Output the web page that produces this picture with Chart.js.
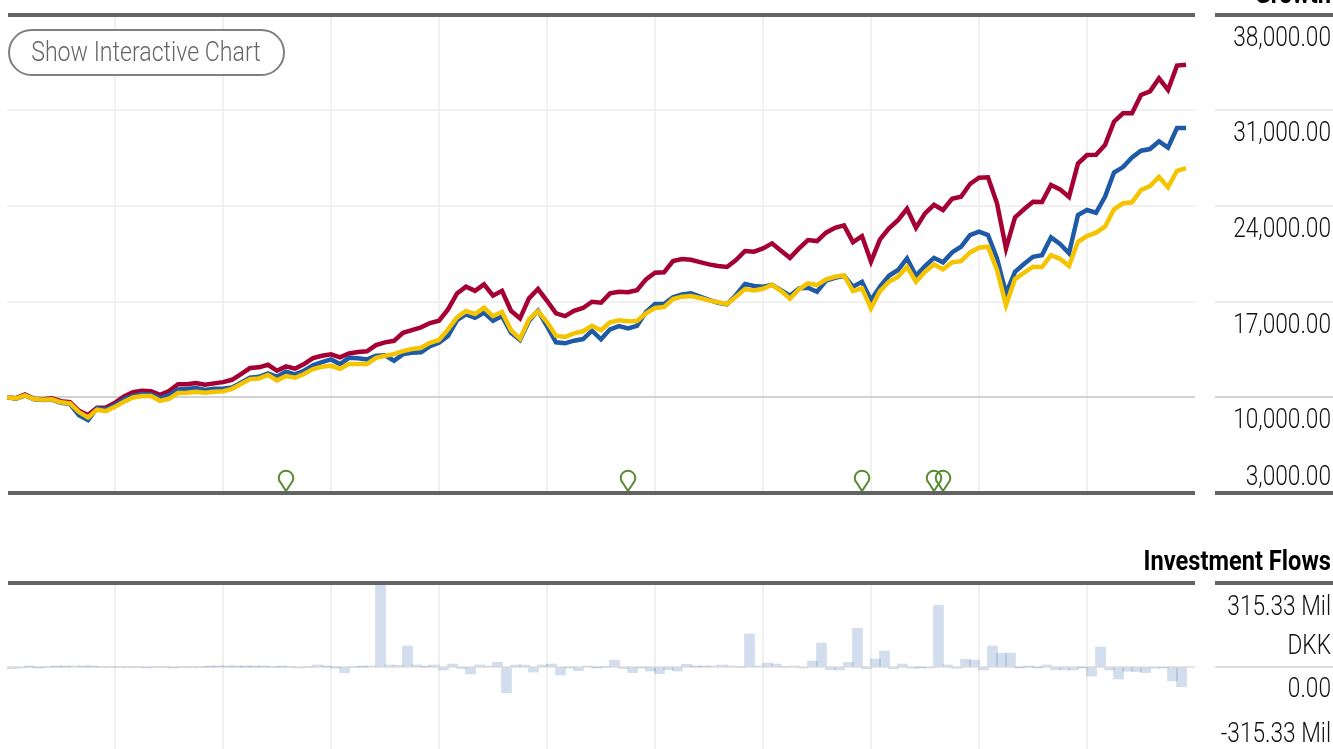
<!DOCTYPE html>
<html>
<head>
<meta charset="utf-8">
<title>Growth and Investment Flows</title>
<script src="https://cdn.jsdelivr.net/npm/chart.js@4"></script>
<style>
  html, body { margin: 0; padding: 0; width: 1333px; height: 749px; overflow: hidden; background: #fff; }
  canvas { position: absolute; left: 0; }
  #growth { top: 0; }
  #flows { top: 540px; }
  #show {
    position: absolute; left: 8px; top: 29px; width: 277px; height: 47px; padding: 0 0 2px;
    background: #fff; border: 2px solid #808080; border-radius: 24px; color: #666;
    font: 300 28px Roboto, sans-serif; white-space: nowrap; overflow: hidden;
  }
  #show span { display: inline-block; transform: translateX(-3px) scaleX(0.826); }
</style>
</head>
<body>
<canvas id="growth" width="1333" height="500"></canvas>
<canvas id="flows" width="1333" height="220"></canvas>
<button id="show"><span>Show Interactive Chart</span></button>
<script>
const fundValues = [
  10000, 9940, 10210, 9890, 9850, 9920, 9720, 9650, 9010, 8700,
  9230, 9260, 9600, 10070, 10380, 10480, 10450, 10180, 10450, 10950,
  10950, 11040, 10920, 11020, 11110, 11280, 11700, 12140, 12190, 12380,
  11940, 12260, 12090, 12430, 12870, 13040, 13140, 12920, 13210, 13310,
  13360, 13820, 14020, 14130, 14720, 14920, 15120, 15430, 15600, 16430,
  17600, 18090, 17790, 18260, 17430, 17790, 16330, 15770, 17240, 17920,
  17060, 16140, 15940, 16330, 16530, 16990, 16920, 17600, 17720, 17680,
  17840, 18630, 19110, 19140, 19970, 20110, 20060, 19890, 19720, 19600,
  19530, 20040, 20700, 20650, 20890, 21260, 20720, 20200, 20890, 21500,
  21430, 22040, 22400, 22580, 21350, 21790, 19920, 21550, 22360, 22960,
  23790, 22400, 23450, 24080, 23700, 24520, 24670, 25600, 26060, 26090,
  24190, 20890, 23160, 23750, 24300, 24280, 25530, 25210, 24650, 27100,
  27720, 27740, 28450, 30160, 30770, 30770, 32110, 32380, 33330, 32480,
  34260, 34330
]
const categoryValues = [
  10000, 9900, 10130, 9860, 9810, 9830, 9590, 9510, 8680, 8330,
  9190, 9110, 9430, 9850, 10110, 10240, 10210, 9940, 10160, 10580,
  10600, 10670, 10530, 10620, 10620, 10720, 11060, 11430, 11500, 11750,
  11500, 11870, 11680, 11940, 12340, 12580, 12770, 12430, 12890, 12850,
  12770, 13040, 13070, 12670, 13160, 13260, 13290, 13750, 13990, 14480,
  15650, 16070, 15820, 16190, 15600, 15940, 14720, 14190, 15580, 16330,
  15210, 14020, 13950, 14140, 14260, 14870, 14240, 14970, 15210, 15040,
  15230, 16240, 16820, 16820, 17310, 17530, 17600, 17360, 17120, 16920,
  16800, 17480, 18290, 18140, 18090, 18230, 17840, 17430, 17970, 18010,
  17720, 18530, 18740, 18890, 18090, 18450, 17120, 18090, 18890, 19310,
  20160, 18890, 19600, 20200, 19870, 20600, 21010, 21870, 22110, 21870,
  20160, 17600, 19180, 19750, 20280, 20400, 21700, 21210, 20530, 23330,
  23700, 23500, 24670, 26440, 26840, 27540, 28040, 28160, 28720, 28260,
  29700, 29700
]
const indexValues = [
  10000, 9920, 10140, 9870, 9820, 9850, 9630, 9550, 8920, 8530,
  9090, 8990, 9300, 9670, 9990, 10090, 10090, 9740, 9890, 10310,
  10330, 10400, 10330, 10400, 10450, 10620, 10970, 11330, 11380, 11630,
  11240, 11550, 11430, 11700, 12060, 12230, 12300, 12090, 12430, 12430,
  12430, 12890, 13040, 13160, 13380, 13530, 13620, 13990, 14190, 14970,
  15850, 16310, 16090, 16550, 15940, 16240, 14920, 14280, 15700, 16290,
  15500, 14500, 14410, 14680, 14830, 15230, 14900, 15480, 15630, 15560,
  15580, 16140, 16530, 16600, 17190, 17360, 17410, 17260, 17090, 16950,
  16820, 17360, 17920, 17820, 17940, 18230, 17790, 17210, 17900, 18340,
  18210, 18630, 18820, 18920, 17770, 17970, 16510, 17770, 18450, 18820,
  19550, 18450, 19180, 19720, 19360, 19870, 19960, 20600, 20940, 21010,
  19310, 16730, 18650, 19110, 19550, 19530, 20400, 20130, 19600, 21380,
  21790, 22040, 22480, 23750, 24190, 24260, 25160, 25450, 26130, 25360,
  26570, 26770
]
// months that carry a distribution marker
const pinMonths = [31, 69, 95, 103, 104]
// monthly flows, DKK millions
const flowValues = [
  -6, -4, 1, -1, 0, 0.5, 1, 3.5, 1, 1,
  0, 0, 0, 0, 0, -2, 0, 0, -2, 0,
  0, 0, 0.5, 1, 1, 1, 0.5, 0.5, 1, 0,
  0.5, 0, -4, 0, 7.5, 1, -1, -22, 0, 0.5,
  4, 315.33, 7.5, 6, 79, 7.5, 1, 7.5, -11, 11,
  -6, -26, 7.5, 4, 17.5, -97, 7.5, 7.5, -19, 7.5,
  11, -30, -2, -14, 4, -1, 0, 26, -6, -21,
  -2, -15, -25, -10, -15, 10, 1, 1, 4, 7.5,
  4, 0, 124, 4, 15, 11, 0, 4, -4, 22,
  90, -10, -11, 17.5, 145, -7, 30, 60, -7, 11,
  -5, -1, -4, 232, 7.5, -5, 29, 26, -11, 79,
  52, 52, -1, 2, -1, 7.5, -10, -11, -11, -1,
  -34, 75, -11, -45, -16, -17, -21, -5, -2, -52,
  -74
]
const growthTicks = [38000, 31000, 24000, 17000, 10000, 3000]
const growthLabels = ['38,000.00', '31,000.00', '24,000.00', '17,000.00', '10,000.00', '3,000.00']
const flowTicks = [315.33, 0, -315.33]
const flowLabels = ['315.33 Mil', '0.00', '-315.33 Mil']

const RULE = '#636363'
const LIGHT = '#f1f1f1'
// no condensed face is installed, so the text is squeezed
const LABEL_SQUEEZE = 0.81
const TITLE_SQUEEZE = 0.845

const toPoints = (arr) => arr.map((y, i) => ({ x: i, y }))

// green outline drop, the tip sits just above the middle of the image so it lands on the value
const pinImage = document.createElement('canvas')
pinImage.width = 20
pinImage.height = 48
const pc = pinImage.getContext('2d')
pc.strokeStyle = '#558b2f'
pc.lineWidth = 2
pc.beginPath()
pc.moveTo(10, 22)
pc.lineTo(3.6, 12)
pc.arc(10, 9, 7.3, Math.PI * 0.86, Math.PI * 0.14)
pc.closePath()
pc.stroke()

// rules, the right hand extension of the grid and the axis labels sit outside the plot
const sideColumn = {
  id: 'sideColumn',
  afterDraw(chart, args, opts) {
    const { ctx, chartArea } = chart
    const y = chart.scales.y
    const hline = (py, x0, x1, color, w) => {
      ctx.fillStyle = color
      ctx.fillRect(x0, Math.round(py - w / 2), x1 - x0, w)
    }
    const text = (str, py, squeeze) => {
      ctx.save()
      ctx.translate(1331, py)
      ctx.scale(squeeze, 1)
      ctx.fillText(str, 0, 0)
      ctx.restore()
    }
    ctx.save()
    hline(chartArea.top, 8, 1195, RULE, 4)
    hline(chartArea.top, 1215, 1333, RULE, 4)
    if (opts.bottomRule) {
      hline(chartArea.bottom, 8, 1195, RULE, 4)
      hline(chartArea.bottom, 1215, 1333, RULE, 4)
    }
    opts.lines.forEach((v) => hline(y.getPixelForValue(v), 1215, 1333, opts.lineColor(v), 2))
    ctx.fillStyle = '#111'
    ctx.font = '300 28px Roboto, sans-serif'
    ctx.textAlign = 'right'
    ctx.textBaseline = 'middle'
    opts.labels.forEach((l) => text(l.text, y.getPixelForValue(l.value) + l.dy, LABEL_SQUEEZE))
    ctx.fillStyle = '#000'
    ctx.font = 'bold 28px Roboto, sans-serif'
    ctx.textBaseline = 'alphabetic'
    text(opts.title, opts.titleY, TITLE_SQUEEZE)
    ctx.restore()
  }
}

const xAxis = {
  type: 'linear',
  offset: false,
  min: 0,
  max: 132,
  ticks: { display: false, stepSize: 12 },
  border: { display: false },
  grid: {
    offset: false,
    drawTicks: false,
    lineWidth: 2,
    color: (c) => (c.tick.value === 0 || c.tick.value === 132 ? 'transparent' : LIGHT)
  }
}

const growthLine = (label, values, color) => ({
  label,
  data: toPoints(values),
  borderColor: color,
  borderWidth: 4.5,
  borderJoinStyle: 'miter',
  pointRadius: 0,
  tension: 0
})

new Chart(document.getElementById('growth'), {
  type: 'line',
  data: {
    datasets: [
      {
        label: 'Distributions',
        data: pinMonths.map((m) => ({ x: m, y: 3000 })),
        showLine: false,
        pointStyle: pinImage,
        pointRadius: 10,
        clip: false
      },
      growthLine('Index', indexValues, '#f5c400'),
      growthLine('Category', categoryValues, '#1f5aa6'),
      growthLine('Fund', fundValues, '#a50034')
    ]
  },
  options: {
    responsive: false,
    animation: false,
    layout: { autoPadding: false, padding: { left: 7, right: 138, top: 14.5, bottom: 7 } },
    plugins: {
      legend: { display: false },
      tooltip: { enabled: false },
      sideColumn: {
        title: 'Growth',
        titleY: 3,
        bottomRule: true,
        lines: growthTicks.slice(1, -1),
        lineColor: (v) => (v === 10000 ? '#d2d2d2' : '#ebebeb'),
        labels: growthTicks.map((value, i) => ({
          value,
          text: growthLabels[i],
          dy: value === 3000 ? -15 : 24
        }))
      }
    },
    scales: {
      x: xAxis,
      y: {
        min: 3000,
        max: 38000,
        afterBuildTicks: (scale) => { scale.ticks = growthTicks.map((value) => ({ value })) },
        ticks: { display: false },
        border: { display: false },
        grid: {
          drawTicks: false,
          lineWidth: 2,
          color: (c) => {
            if (c.tick.value === 38000 || c.tick.value === 3000) return 'transparent'
            return c.tick.value === 10000 ? '#d2d2d2' : LIGHT
          }
        }
      }
    }
  },
  plugins: [sideColumn]
})

new Chart(document.getElementById('flows'), {
  type: 'bar',
  data: {
    datasets: [{
      label: 'Investment Flows',
      // a month's bar fills the gap up to the next month
      data: flowValues.map((y, i) => ({ x: i + 0.5, y })),
      backgroundColor: 'rgba(31, 90, 166, 0.2)',
      barThickness: 10
    }]
  },
  options: {
    responsive: false,
    animation: false,
    layout: { autoPadding: false, padding: { left: 7, right: 138, top: 43, bottom: 9 } },
    plugins: {
      legend: { display: false },
      tooltip: { enabled: false },
      sideColumn: {
        title: 'Investment Flows',
        titleY: 30,
        bottomRule: false,
        lines: [0],
        lineColor: () => '#dcdcdc',
        labels: [
          { value: flowTicks[0], text: flowLabels[0], dy: 25 },
          { value: flowTicks[0], text: 'DKK', dy: 64 },
          { value: flowTicks[1], text: flowLabels[1], dy: 23 },
          { value: flowTicks[2], text: flowLabels[2], dy: -16 }
        ]
      }
    },
    scales: {
      x: xAxis,
      y: {
        min: -315.33,
        max: 315.33,
        afterBuildTicks: (scale) => { scale.ticks = flowTicks.map((value) => ({ value })) },
        ticks: { display: false },
        border: { display: false },
        grid: {
          drawTicks: false,
          lineWidth: 2,
          color: (c) => (c.tick.value === 0 ? '#e6e6e6' : 'transparent')
        }
      }
    }
  },
  plugins: [sideColumn]
})
</script>
</body>
</html>
